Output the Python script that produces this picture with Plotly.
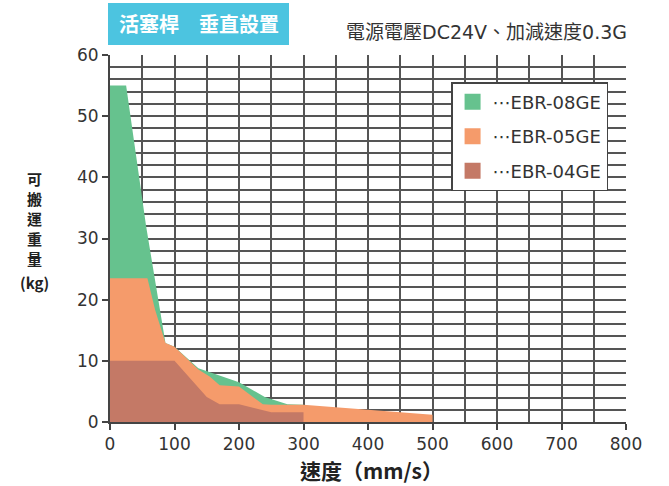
import plotly.graph_objects as go

# Data (speed mm/s, payload kg)
speed_08 = [0, 25, 56, 86, 100, 137, 200, 240, 275, 300]
load_08 = [55, 55, 32, 12.9, 12.3, 8.8, 6.5, 4.1, 2.9, 2.8]
speed_05 = [0, 58, 70, 86, 100, 137, 155, 170, 200, 237, 250, 300, 500]
load_05 = [23.5, 23.5, 18.3, 12.9, 12.3, 8.6, 7.4, 6.0, 5.8, 2.9, 2.8, 2.8, 1.2]
speed_04 = [0, 100, 150, 170, 200, 250, 300]
load_04 = [10, 10, 4.1, 2.9, 2.9, 1.6, 1.6]

names = ["⋯EBR-08GE", "⋯EBR-05GE", "⋯EBR-04GE"]
colors = ["#66c28e", "#f59b6b", "#c47966"]

x_ticks = [0, 100, 200, 300, 400, 500, 600, 700, 800]
y_ticks = [0, 10, 20, 30, 40, 50, 60]
y_title_chars = ["可", "搬", "運", "重", "量", "(kg)"]

fig = go.Figure()
for i, (xs, ys) in enumerate([(speed_08, load_08), (speed_05, load_05), (speed_04, load_04)]):
    fig.add_trace(go.Scatter(
        x=xs, y=ys, name=names[i], mode="lines",
        line=dict(width=0, color=colors[i]),
        fill="tozeroy", fillcolor=colors[i],
        showlegend=False, hoverinfo="skip"))
# legend entries (square swatches)
for i in range(3):
    fig.add_trace(go.Scatter(
        x=[None], y=[None], name=names[i], mode="markers",
        marker=dict(symbol="square", size=16, color=colors[i]),
        legendgroup=f"g{i}", showlegend=True))

num_font = dict(family="DejaVu Sans, Liberation Sans, sans-serif", size=17, color="#333")
grid_col = "#555"

fig.update_layout(
    width=669, height=486,
    margin=dict(l=110, r=43, t=55, b=64),
    paper_bgcolor="white", plot_bgcolor="white",
    showlegend=True,
    legend=dict(
        x=0.661, y=0.926, xanchor="left", yanchor="top",
        bgcolor="white", bordercolor="#444", borderwidth=1.5,
        font=dict(family="DejaVu Sans, Liberation Sans, sans-serif", size=18, color="#333"),
        tracegroupgap=8, itemwidth=30, traceorder="grouped",
    ),
    xaxis=dict(
        range=[0, 800], tickvals=x_ticks, ticktext=[str(v) for v in x_ticks],
        showgrid=True, gridcolor=grid_col, gridwidth=1.5,
        minor=dict(dtick=50, showgrid=True, gridcolor=grid_col, gridwidth=1.5, ticks=""),
        showline=True, linecolor="#444", linewidth=2,
        ticks="outside", ticklen=6, tickcolor="#444", tickwidth=1.5,
        tickfont=num_font, zeroline=False, fixedrange=True,
    ),
    yaxis=dict(
        range=[0, 60], tickvals=y_ticks, ticktext=[str(v) for v in y_ticks],
        showgrid=True, gridcolor=grid_col, gridwidth=1.5,
        minor=dict(dtick=2, showgrid=True, gridcolor=grid_col, gridwidth=1.5, ticks=""),
        showline=True, linecolor="#444", linewidth=2,
        ticks="outside", ticklen=6, tickcolor="#444", tickwidth=1.5,
        tickfont=num_font, zeroline=False, fixedrange=True,
    ),
)

def px_x(px):
    return (px - 110) / 516

def px_y(py):
    return (422 - py) / 367

# Title box
fig.add_shape(type="rect", xref="paper", yref="paper",
              x0=px_x(108), x1=px_x(289), y0=px_y(45), y1=px_y(3),
              fillcolor="#4cc4e0", line=dict(width=0), layer="above")
fig.add_annotation(xref="paper", yref="paper", x=px_x(198.5), y=px_y(24),
                   text="<b>活塞桿　垂直設置</b>", showarrow=False,
                   font=dict(family="Noto Sans CJK TC", size=20, color="white"),
                   xanchor="center", yanchor="middle")
fig.add_annotation(xref="paper", yref="paper", x=px_x(629), y=px_y(32),
                   text="電源電壓DC24V、加減速度0.3G", showarrow=False,
                   font=dict(family="DejaVu Sans, Noto Sans CJK TC", size=19, color="#333"),
                   xanchor="right", yanchor="middle")
# Y axis title, stacked vertically
y_centers = [178, 198, 218, 238, 258, 282]
for ch, yc in zip(y_title_chars, y_centers):
    fig.add_annotation(xref="paper", yref="paper", x=px_x(34), y=px_y(yc),
                       text=f"<b>{ch}</b>", showarrow=False,
                       font=dict(family="Noto Sans CJK TC", size=15, color="#222"),
                       xanchor="center", yanchor="middle", borderpad=0)
# X axis title
fig.add_annotation(xref="paper", yref="paper", x=px_x(371), y=px_y(470),
                   text="<b>速度（mm/s）</b>", showarrow=False,
                   font=dict(family="Noto Sans CJK TC", size=21, color="#222"),
                   xanchor="center", yanchor="middle")

fig.write_html("out.html", config={"displayModeBar": False},
               post_script="document.body.style.margin='0';document.body.style.overflow='hidden';")
